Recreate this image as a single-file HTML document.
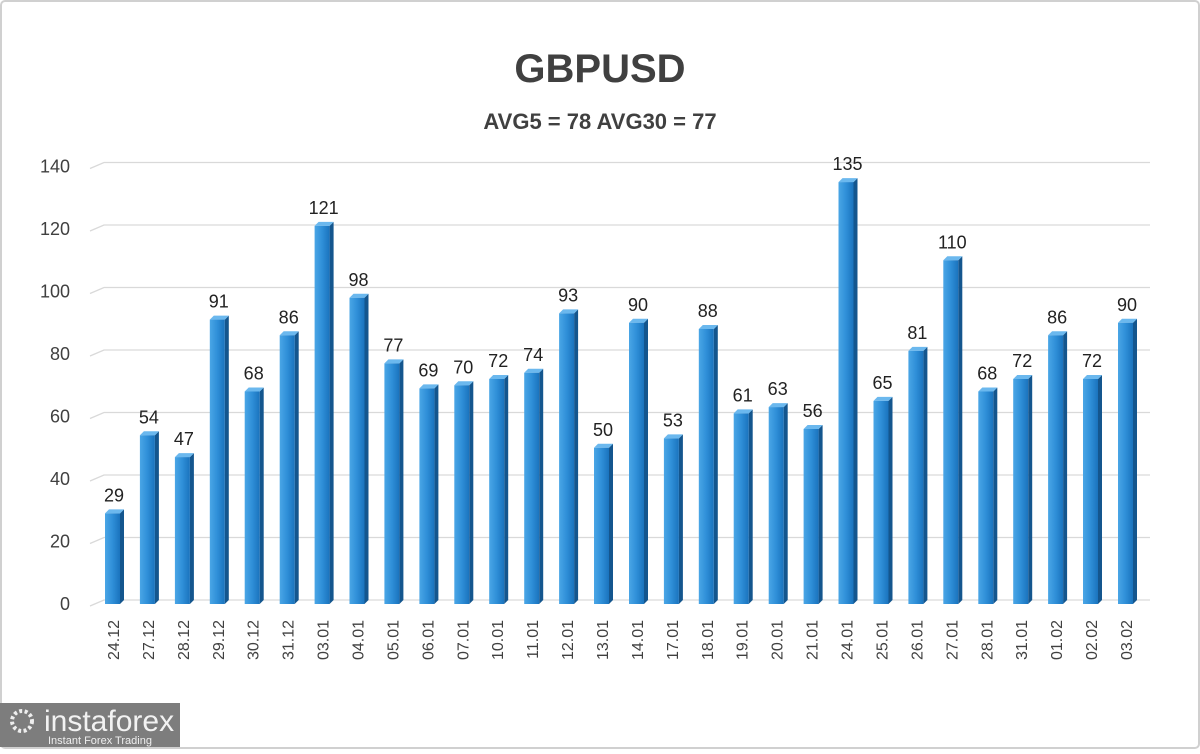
<!DOCTYPE html><html><head><style>body{margin:0;background:#fff}</style></head><body>
<svg width="1200" height="749" xmlns="http://www.w3.org/2000/svg" font-family="Liberation Sans, sans-serif">
<defs><linearGradient id="g" x1="0" x2="1"><stop offset="0" stop-color="#4aa6e6"/><stop offset="0.5" stop-color="#2f8fd8"/><stop offset="1" stop-color="#1a73bd"/></linearGradient></defs>
<rect x="1" y="1" width="1198" height="747" rx="4" fill="#fff" stroke="#d0d0d0" stroke-width="2"/>
<text x="600" y="82" text-anchor="middle" font-size="40" font-weight="bold" fill="#404040">GBPUSD</text>
<text x="600" y="129" text-anchor="middle" font-size="22" font-weight="bold" fill="#404040">AVG5 = 78 AVG30 = 77</text>
<g stroke="#d9d9d9" stroke-width="1.3" fill="none">
<path d="M90 606L104 600H1150"/><path d="M90 543.5L104 537.5H1150"/><path d="M90 481L104 475H1150"/><path d="M90 418.5L104 412.5H1150"/><path d="M90 356L104 350H1150"/><path d="M90 293.5L104 287.5H1150"/><path d="M90 231L104 225H1150"/><path d="M90 168.5L104 162.5H1150"/>
</g>
<g font-size="18" fill="#404040" text-anchor="end">
<text x="70" y="610">0</text><text x="70" y="547.5">20</text><text x="70" y="485">40</text><text x="70" y="422.5">60</text><text x="70" y="360">80</text><text x="70" y="297.5">100</text><text x="70" y="235">120</text><text x="70" y="172.5">140</text>
</g>
<g font-size="18" fill="#222" text-anchor="middle">
<g transform="translate(105,513.4)"><path d="M15 0l4-4v90.6l-4 4z" fill="#14568e"/><path d="M0 0l4-4h15l-4 4z" fill="#6bb8ee"/><rect width="15" height="90.6" fill="url(#g)"/><text x="9" y="-12">29</text></g>
<g transform="translate(139.9,435.25)"><path d="M15 0l4-4v168.75l-4 4z" fill="#14568e"/><path d="M0 0l4-4h15l-4 4z" fill="#6bb8ee"/><rect width="15" height="168.75" fill="url(#g)"/><text x="9" y="-12">54</text></g>
<g transform="translate(174.9,457.1)"><path d="M15 0l4-4v146.9l-4 4z" fill="#14568e"/><path d="M0 0l4-4h15l-4 4z" fill="#6bb8ee"/><rect width="15" height="146.9" fill="url(#g)"/><text x="9" y="-12">47</text></g>
<g transform="translate(209.8,319.6)"><path d="M15 0l4-4v284.4l-4 4z" fill="#14568e"/><path d="M0 0l4-4h15l-4 4z" fill="#6bb8ee"/><rect width="15" height="284.4" fill="url(#g)"/><text x="9" y="-12">91</text></g>
<g transform="translate(244.7,391.5)"><path d="M15 0l4-4v212.5l-4 4z" fill="#14568e"/><path d="M0 0l4-4h15l-4 4z" fill="#6bb8ee"/><rect width="15" height="212.5" fill="url(#g)"/><text x="9" y="-12">68</text></g>
<g transform="translate(279.7,335.25)"><path d="M15 0l4-4v268.75l-4 4z" fill="#14568e"/><path d="M0 0l4-4h15l-4 4z" fill="#6bb8ee"/><rect width="15" height="268.75" fill="url(#g)"/><text x="9" y="-12">86</text></g>
<g transform="translate(314.6,225.9)"><path d="M15 0l4-4v378.1l-4 4z" fill="#14568e"/><path d="M0 0l4-4h15l-4 4z" fill="#6bb8ee"/><rect width="15" height="378.1" fill="url(#g)"/><text x="9" y="-12">121</text></g>
<g transform="translate(349.5,297.75)"><path d="M15 0l4-4v306.25l-4 4z" fill="#14568e"/><path d="M0 0l4-4h15l-4 4z" fill="#6bb8ee"/><rect width="15" height="306.25" fill="url(#g)"/><text x="9" y="-12">98</text></g>
<g transform="translate(384.4,363.4)"><path d="M15 0l4-4v240.6l-4 4z" fill="#14568e"/><path d="M0 0l4-4h15l-4 4z" fill="#6bb8ee"/><rect width="15" height="240.6" fill="url(#g)"/><text x="9" y="-12">77</text></g>
<g transform="translate(419.4,388.4)"><path d="M15 0l4-4v215.6l-4 4z" fill="#14568e"/><path d="M0 0l4-4h15l-4 4z" fill="#6bb8ee"/><rect width="15" height="215.6" fill="url(#g)"/><text x="9" y="-12">69</text></g>
<g transform="translate(454.3,385.25)"><path d="M15 0l4-4v218.75l-4 4z" fill="#14568e"/><path d="M0 0l4-4h15l-4 4z" fill="#6bb8ee"/><rect width="15" height="218.75" fill="url(#g)"/><text x="9" y="-12">70</text></g>
<g transform="translate(489.2,379)"><path d="M15 0l4-4v225l-4 4z" fill="#14568e"/><path d="M0 0l4-4h15l-4 4z" fill="#6bb8ee"/><rect width="15" height="225" fill="url(#g)"/><text x="9" y="-12">72</text></g>
<g transform="translate(524.2,372.75)"><path d="M15 0l4-4v231.25l-4 4z" fill="#14568e"/><path d="M0 0l4-4h15l-4 4z" fill="#6bb8ee"/><rect width="15" height="231.25" fill="url(#g)"/><text x="9" y="-12">74</text></g>
<g transform="translate(559.1,313.4)"><path d="M15 0l4-4v290.6l-4 4z" fill="#14568e"/><path d="M0 0l4-4h15l-4 4z" fill="#6bb8ee"/><rect width="15" height="290.6" fill="url(#g)"/><text x="9" y="-12">93</text></g>
<g transform="translate(594,447.75)"><path d="M15 0l4-4v156.25l-4 4z" fill="#14568e"/><path d="M0 0l4-4h15l-4 4z" fill="#6bb8ee"/><rect width="15" height="156.25" fill="url(#g)"/><text x="9" y="-12">50</text></g>
<g transform="translate(629,322.75)"><path d="M15 0l4-4v281.25l-4 4z" fill="#14568e"/><path d="M0 0l4-4h15l-4 4z" fill="#6bb8ee"/><rect width="15" height="281.25" fill="url(#g)"/><text x="9" y="-12">90</text></g>
<g transform="translate(663.9,438.4)"><path d="M15 0l4-4v165.6l-4 4z" fill="#14568e"/><path d="M0 0l4-4h15l-4 4z" fill="#6bb8ee"/><rect width="15" height="165.6" fill="url(#g)"/><text x="9" y="-12">53</text></g>
<g transform="translate(698.8,329)"><path d="M15 0l4-4v275l-4 4z" fill="#14568e"/><path d="M0 0l4-4h15l-4 4z" fill="#6bb8ee"/><rect width="15" height="275" fill="url(#g)"/><text x="9" y="-12">88</text></g>
<g transform="translate(733.7,413.4)"><path d="M15 0l4-4v190.6l-4 4z" fill="#14568e"/><path d="M0 0l4-4h15l-4 4z" fill="#6bb8ee"/><rect width="15" height="190.6" fill="url(#g)"/><text x="9" y="-12">61</text></g>
<g transform="translate(768.7,407.1)"><path d="M15 0l4-4v196.9l-4 4z" fill="#14568e"/><path d="M0 0l4-4h15l-4 4z" fill="#6bb8ee"/><rect width="15" height="196.9" fill="url(#g)"/><text x="9" y="-12">63</text></g>
<g transform="translate(803.6,429)"><path d="M15 0l4-4v175l-4 4z" fill="#14568e"/><path d="M0 0l4-4h15l-4 4z" fill="#6bb8ee"/><rect width="15" height="175" fill="url(#g)"/><text x="9" y="-12">56</text></g>
<g transform="translate(838.5,182.1)"><path d="M15 0l4-4v421.9l-4 4z" fill="#14568e"/><path d="M0 0l4-4h15l-4 4z" fill="#6bb8ee"/><rect width="15" height="421.9" fill="url(#g)"/><text x="9" y="-12">135</text></g>
<g transform="translate(873.5,400.9)"><path d="M15 0l4-4v203.1l-4 4z" fill="#14568e"/><path d="M0 0l4-4h15l-4 4z" fill="#6bb8ee"/><rect width="15" height="203.1" fill="url(#g)"/><text x="9" y="-12">65</text></g>
<g transform="translate(908.4,350.9)"><path d="M15 0l4-4v253.1l-4 4z" fill="#14568e"/><path d="M0 0l4-4h15l-4 4z" fill="#6bb8ee"/><rect width="15" height="253.1" fill="url(#g)"/><text x="9" y="-12">81</text></g>
<g transform="translate(943.3,260.25)"><path d="M15 0l4-4v343.75l-4 4z" fill="#14568e"/><path d="M0 0l4-4h15l-4 4z" fill="#6bb8ee"/><rect width="15" height="343.75" fill="url(#g)"/><text x="9" y="-12">110</text></g>
<g transform="translate(978.3,391.5)"><path d="M15 0l4-4v212.5l-4 4z" fill="#14568e"/><path d="M0 0l4-4h15l-4 4z" fill="#6bb8ee"/><rect width="15" height="212.5" fill="url(#g)"/><text x="9" y="-12">68</text></g>
<g transform="translate(1013.2,379)"><path d="M15 0l4-4v225l-4 4z" fill="#14568e"/><path d="M0 0l4-4h15l-4 4z" fill="#6bb8ee"/><rect width="15" height="225" fill="url(#g)"/><text x="9" y="-12">72</text></g>
<g transform="translate(1048.1,335.25)"><path d="M15 0l4-4v268.75l-4 4z" fill="#14568e"/><path d="M0 0l4-4h15l-4 4z" fill="#6bb8ee"/><rect width="15" height="268.75" fill="url(#g)"/><text x="9" y="-12">86</text></g>
<g transform="translate(1083,379)"><path d="M15 0l4-4v225l-4 4z" fill="#14568e"/><path d="M0 0l4-4h15l-4 4z" fill="#6bb8ee"/><rect width="15" height="225" fill="url(#g)"/><text x="9" y="-12">72</text></g>
<g transform="translate(1118,322.75)"><path d="M15 0l4-4v281.25l-4 4z" fill="#14568e"/><path d="M0 0l4-4h15l-4 4z" fill="#6bb8ee"/><rect width="15" height="281.25" fill="url(#g)"/><text x="9" y="-12">90</text></g>
</g>
<g font-size="16" fill="#404040" text-anchor="end">
<text transform="translate(119,620) rotate(-90)">24.12</text>
<text transform="translate(153.9,620) rotate(-90)">27.12</text>
<text transform="translate(188.9,620) rotate(-90)">28.12</text>
<text transform="translate(223.8,620) rotate(-90)">29.12</text>
<text transform="translate(258.7,620) rotate(-90)">30.12</text>
<text transform="translate(293.7,620) rotate(-90)">31.12</text>
<text transform="translate(328.6,620) rotate(-90)">03.01</text>
<text transform="translate(363.5,620) rotate(-90)">04.01</text>
<text transform="translate(398.4,620) rotate(-90)">05.01</text>
<text transform="translate(433.4,620) rotate(-90)">06.01</text>
<text transform="translate(468.3,620) rotate(-90)">07.01</text>
<text transform="translate(503.2,620) rotate(-90)">10.01</text>
<text transform="translate(538.2,620) rotate(-90)">11.01</text>
<text transform="translate(573.1,620) rotate(-90)">12.01</text>
<text transform="translate(608,620) rotate(-90)">13.01</text>
<text transform="translate(643,620) rotate(-90)">14.01</text>
<text transform="translate(677.9,620) rotate(-90)">17.01</text>
<text transform="translate(712.8,620) rotate(-90)">18.01</text>
<text transform="translate(747.7,620) rotate(-90)">19.01</text>
<text transform="translate(782.7,620) rotate(-90)">20.01</text>
<text transform="translate(817.6,620) rotate(-90)">21.01</text>
<text transform="translate(852.5,620) rotate(-90)">24.01</text>
<text transform="translate(887.5,620) rotate(-90)">25.01</text>
<text transform="translate(922.4,620) rotate(-90)">26.01</text>
<text transform="translate(957.3,620) rotate(-90)">27.01</text>
<text transform="translate(992.3,620) rotate(-90)">28.01</text>
<text transform="translate(1027.2,620) rotate(-90)">31.01</text>
<text transform="translate(1062.1,620) rotate(-90)">01.02</text>
<text transform="translate(1097,620) rotate(-90)">02.02</text>
<text transform="translate(1132,620) rotate(-90)">03.02</text>
</g>
<rect x="0" y="703" width="180" height="44" fill="#7d7d7d"/>
<circle cx="22" cy="721" r="10" fill="none" stroke="#eee" stroke-width="4" stroke-dasharray="3 2.5"/>
<text x="44" y="731" font-size="30" fill="#f2f2f2">instaforex</text>
<text x="48" y="744" font-size="11" fill="#eee">Instant Forex Trading</text>
</svg>
</body></html>
